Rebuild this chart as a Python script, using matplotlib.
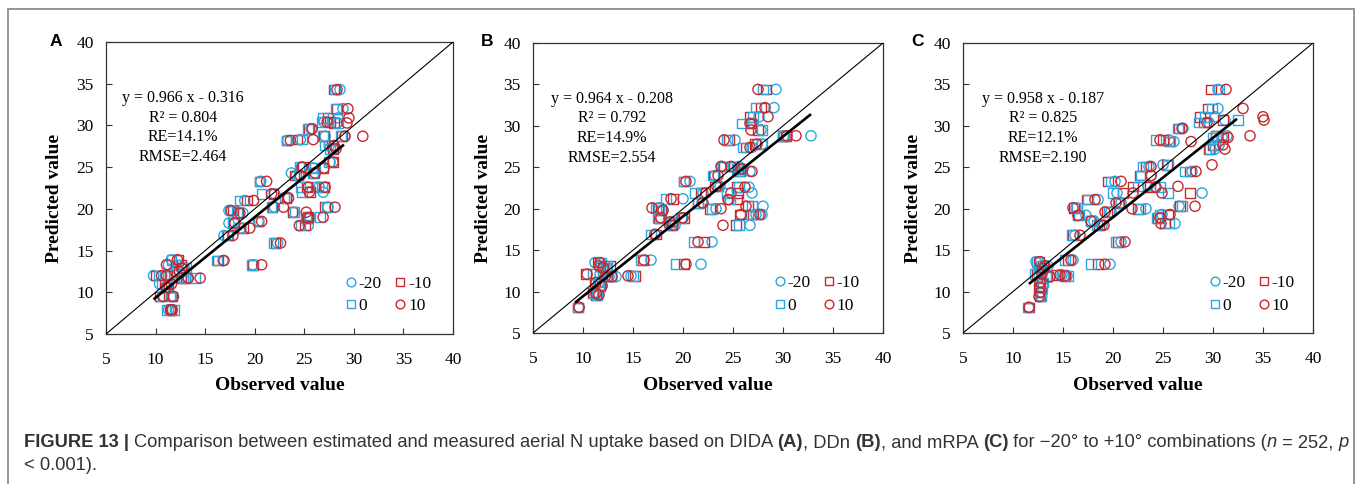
import matplotlib
matplotlib.use('Agg')
import matplotlib.pyplot as plt
from matplotlib.lines import Line2D
from matplotlib.patches import Rectangle

# ---------------- data ----------------
series_labels = ['-20', '-10', '0', '10']

# Panel A (DIDA)
yA = [34.3, 32.0, 30.9, 30.4, 30.3, 29.6, 28.7, 28.7, 28.2, 28.3, 27.6, 27.2, 25.6, 25.0,
      24.9, 24.3, 24.0, 23.3, 22.6, 22.6, 22.0, 21.8, 21.3, 21.0, 20.2, 20.2, 19.8, 19.6,
      19.5, 19.0, 18.9, 18.5, 18.3, 18.0, 17.7, 16.8, 15.9, 13.8, 13.3, 13.9, 13.3, 12.9,
      12.5, 12.0, 12.0, 11.7, 11.7, 11.0, 10.6, 9.5, 9.5, 7.9, 7.9]
xA_m20 = [28.6, 28.9, 28.4, 27.0, 28.3, 25.7, 27.1, 29.1, 23.3, 24.6, 27.5, 27.9, 27.6, 24.7,
          25.9, 23.7, 24.2, 20.6, 26.2, 26.5, 26.9, 22.0, 23.4, 19.0, 22.0, 27.4, 17.4, 23.9,
          18.8, 25.6, 25.5, 20.4, 17.4, 25.4, 18.6, 16.9, 22.3, 16.8, 19.8, 11.6, 11.3, 12.9,
          11.9, 9.8, 11.5, 12.6, 13.2, 10.4, 11.0, 10.7, 11.6, 11.3, 11.7]
xA_m10 = [28.0, 28.3, 27.4, 27.6, 28.0, 25.5, 27.0, 28.8, 23.2, 24.3, 27.8, 27.9, 27.9, 24.9,
          26.9, 26.0, 24.0, 20.5, 25.3, 27.0, 25.6, 21.9, 23.2, 19.2, 21.8, 27.1, 17.8, 23.8,
          18.3, 25.4, 25.3, 20.4, 17.9, 25.1, 18.8, 17.3, 22.1, 16.3, 19.8, 12.3, 12.6, 12.7,
          12.1, 10.0, 11.2, 12.6, 13.0, 10.9, 11.3, 10.4, 11.7, 11.5, 11.6]
xA_0 = [28.1, 28.2, 26.9, 26.8, 28.4, 25.4, 26.9, 28.7, 23.2, 24.8, 27.1, 27.6, 27.5, 24.5,
        26.1, 25.9, 24.4, 20.5, 24.6, 26.8, 24.8, 20.7, 23.0, 18.5, 21.7, 27.3, 17.6, 24.0,
        18.2, 26.6, 25.2, 20.4, 17.8, 24.6, 18.5, 17.2, 21.9, 16.2, 19.7, 11.6, 12.1, 13.1,
        12.8, 10.3, 10.9, 14.0, 12.8, 10.6, 11.2, 10.7, 11.5, 11.1, 11.9]
xA_10 = [28.3, 29.4, 29.5, 27.3, 29.3, 25.8, 30.9, 29.1, 23.6, 25.9, 28.0, 28.2, 27.9, 24.8,
         27.0, 26.1, 24.6, 21.2, 25.4, 27.1, 25.5, 21.7, 23.4, 19.9, 22.9, 28.1, 17.6, 25.2,
         18.5, 26.9, 25.4, 20.7, 18.0, 24.5, 19.5, 17.8, 22.6, 16.9, 20.7, 12.2, 11.1, 12.6,
         12.4, 10.6, 11.1, 13.3, 14.5, 11.6, 11.1, 10.8, 11.8, 11.6, 11.5]

# Panel B (DDn)
yB = [34.4, 32.2, 31.1, 30.3, 29.5, 28.8, 28.8, 28.3, 27.8, 27.4, 25.1, 25.1, 24.8, 24.5,
      24.0, 23.3, 22.7, 22.6, 21.9, 21.9, 21.2, 21.1, 20.7, 20.3, 20.1, 19.8, 20.0, 19.3,
      19.3, 18.9, 18.9, 18.4, 18.0, 18.0, 16.9, 16.0, 13.8, 13.3, 13.5, 13.1, 12.9, 12.1,
      11.9, 11.8, 11.8, 11.1, 10.7, 9.8, 9.6, 8.1]
xB_m20 = [29.3, 29.1, 27.6, 27.0, 27.8, 32.8, 30.1, 25.2, 27.9, 26.9, 23.9, 25.6, 26.0, 26.7,
          23.2, 20.7, 23.7, 26.6, 22.0, 26.9, 20.0, 24.6, 21.9, 28.0, 17.6, 18.0, 23.3, 27.3,
          27.9, 19.9, 17.7, 19.0, 26.7, 19.2, 17.2, 22.9, 16.8, 21.8, 11.2, 12.2, 11.7, 11.7,
          14.8, 12.6, 13.3, 11.6, 11.9, 11.0, 11.5, 9.6]
xB_m10 = [28.3, 27.8, 26.7, 26.8, 27.5, 30.3, 30.0, 24.6, 27.2, 26.3, 24.1, 25.1, 25.5, 25.7,
          23.1, 20.1, 23.2, 25.4, 21.8, 25.5, 19.0, 25.4, 21.5, 26.5, 17.5, 17.8, 22.7, 25.7,
          27.0, 20.1, 17.6, 18.6, 25.3, 18.9, 17.3, 22.1, 16.0, 20.1, 11.5, 12.7, 12.0, 10.3,
          15.2, 12.4, 12.8, 11.2, 11.7, 11.0, 11.3, 9.5]
xB_0 = [28.0, 27.3, 27.0, 25.9, 27.9, 30.1, 30.0, 24.4, 27.9, 26.0, 24.0, 24.8, 25.4, 25.6,
        23.0, 20.1, 23.5, 25.6, 21.2, 24.4, 18.3, 24.7, 21.5, 26.9, 17.3, 17.6, 22.9, 26.8,
        27.5, 19.8, 17.5, 18.8, 25.6, 18.8, 16.8, 21.1, 15.8, 19.3, 11.8, 12.4, 12.3, 11.0,
        15.0, 12.3, 12.8, 11.5, 11.6, 11.1, 11.4, 9.5]
xB_10 = [27.5, 28.2, 28.5, 26.7, 26.8, 31.3, 30.4, 24.1, 27.4, 26.7, 23.8, 24.8, 25.9, 26.9,
         23.5, 20.3, 23.4, 26.2, 22.3, 24.8, 18.8, 24.5, 22.0, 26.3, 16.9, 18.0, 23.8, 25.8,
         27.7, 20.0, 17.8, 18.7, 24.0, 19.0, 17.2, 21.5, 16.1, 20.3, 11.7, 11.6, 12.0, 10.4,
         14.5, 12.9, 12.2, 11.3, 11.9, 11.3, 11.6, 9.6]

# Panel C (mRPA)
yC = [34.4, 32.1, 31.1, 30.7, 30.4, 29.7, 28.8, 28.6, 28.3, 28.1, 27.7, 27.2, 25.3, 25.1,
      24.5, 24.0, 23.3, 22.7, 22.6, 21.9, 21.9, 21.1, 20.7, 20.3, 20.1, 20.0, 19.6, 19.2,
      19.3, 18.9, 18.5, 18.2, 18.0, 16.8, 16.0, 13.8, 13.3, 13.6, 13.1, 12.8, 12.1, 12.0,
      11.9, 11.8, 11.1, 10.5, 9.9, 9.4, 8.1]
xC_m20 = [30.5, 30.5, 30.2, 31.2, 29.6, 27.0, 31.4, 30.9, 25.6, 26.1, 30.6, 30.2, 25.0, 23.6,
          27.9, 23.8, 20.2, 23.5, 24.2, 28.9, 20.4, 18.5, 20.8, 26.6, 16.3, 23.3, 19.8, 17.3,
          24.9, 24.8, 18.1, 26.2, 18.9, 16.2, 20.8, 16.0, 19.7, 12.3, 13.5, 12.9, 12.6, 14.9,
          15.4, 13.7, 12.8, 12.7, 12.9, 12.8, 11.6]
xC_m10 = [29.8, 29.5, 28.7, 31.0, 29.1, 26.6, 30.3, 31.0, 25.0, 25.6, 30.0, 29.6, 25.4, 23.3,
          27.7, 22.7, 19.5, 22.0, 23.7, 27.7, 21.0, 17.4, 20.6, 26.7, 16.1, 22.5, 19.4, 16.5,
          25.5, 24.5, 17.8, 25.2, 18.6, 16.0, 20.5, 15.5, 18.5, 12.6, 13.0, 12.7, 12.4, 14.4,
          15.2, 13.4, 12.9, 12.6, 12.8, 12.7, 11.6]
xC_0 = [30.6, 29.9, 29.2, 32.5, 28.6, 26.5, 30.3, 30.0, 24.3, 25.7, 30.2, 29.7, 25.5, 23.0,
        27.2, 22.8, 19.8, 22.5, 24.7, 25.5, 20.0, 17.5, 20.5, 26.9, 16.4, 22.7, 19.6, 16.6,
        24.7, 24.4, 17.8, 25.6, 18.4, 15.9, 20.3, 15.2, 17.8, 12.4, 12.8, 12.6, 12.2, 15.0,
        15.5, 13.3, 13.0, 12.9, 12.7, 12.8, 11.5]
xC_10 = [31.3, 33.0, 35.0, 35.1, 29.4, 26.9, 33.7, 31.5, 24.7, 27.8, 31.0, 31.2, 29.9, 23.8,
         28.3, 23.8, 20.8, 26.5, 24.3, 24.9, 22.0, 18.2, 20.3, 28.2, 16.0, 21.9, 19.2, 16.5,
         25.7, 24.7, 17.8, 24.8, 19.1, 16.7, 21.2, 15.8, 19.2, 12.7, 13.2, 13.0, 12.9, 14.7,
         15.2, 13.7, 12.7, 12.7, 12.7, 12.6, 11.6]

fit_slope = [0.966, 0.964, 0.958]
fit_icpt = [-0.316, -0.208, -0.187]
fit_xmin = [9.9, 9.3, 11.7]
fit_xmax = [28.9, 32.7, 32.3]
stat_text = [
    ['y = 0.966 x - 0.316', 'R\u00b2 = 0.804', 'RE=14.1%', 'RMSE=2.464'],
    ['y = 0.964 x - 0.208', 'R\u00b2 = 0.792', 'RE=14.9%', 'RMSE=2.554'],
    ['y = 0.958 x - 0.187', 'R\u00b2 = 0.825', 'RE=12.1%', 'RMSE=2.190'],
]
panel_letters = ['A', 'B', 'C']
ticks = [5, 10, 15, 20, 25, 30, 35, 40]

# ---------------- style / layout ----------------
W, H = 1357, 484
BLUE = '#2ca6e0'
RED = '#c9282d'
SERIF = 'Liberation Serif'
SANS = 'Liberation Sans'
CAP = '#333333'

fig = plt.figure(figsize=(W / 100, H / 100), dpi=100)
fig.patch.set_facecolor('white')

def fx(x):
    return x / W

def fy(y):
    return 1 - y / H

# outer frame
fig.patches.append(Rectangle((fx(8), fy(500)), fx(1354) - fx(8), fy(9) - fy(500),
                             transform=fig.transFigure, fill=False,
                             edgecolor='#8c8c8c', lw=1.3))

axes_px = [(106, 453, 42, 334), (533, 883, 43, 333), (963, 1313, 43, 333)]
ylab_x = [55, 483, 913]
letter_x = [56, 487, 917]
stat_cx = [0.222, 0.226, 0.229]
stat_cy = [0.808, 0.740, 0.673, 0.605]
leg_cx = [0.814, 0.812, 0.826]

data = [
    (yA, [xA_m20, xA_m10, xA_0, xA_10]),
    (yB, [xB_m20, xB_m10, xB_0, xB_10]),
    (yC, [xC_m20, xC_m10, xC_0, xC_10]),
]
styles = [('o', BLUE), ('s', RED), ('s', BLUE), ('o', RED)]

for i, (l, r, t, b) in enumerate(axes_px):
    ax = fig.add_axes([fx(l), fy(b), (r - l) / W, (b - t) / H])
    ax.set_xlim(5, 40)
    ax.set_ylim(5, 40)
    ax.set_xticks(ticks)
    ax.set_yticks(ticks)
    ax.tick_params(direction='in', length=4, width=0.8, color='#333333',
                   labelsize=12.5, pad=0)
    ax.tick_params(axis='x', pad=13)
    ax.tick_params(axis='y', pad=9)
    for lab in ax.get_xticklabels() + ax.get_yticklabels():
        lab.set_fontfamily(SERIF)
    for sp in ax.spines.values():
        sp.set_color('#333333')
        sp.set_linewidth(0.9)

    yv, xs = data[i]
    handles = []
    for (mk, col), xv, lab in zip(styles, xs, series_labels):
        ax.scatter(xv, yv, s=54 if mk == 'o' else 48, marker=mk, facecolors='none',
                   edgecolors=col, linewidths=1.0, zorder=3)
        handles.append(Line2D([], [], ls='none', marker=mk, mfc='none', mec=col,
                              mew=1.0, ms=6.3, label=lab))

    # 1:1 line
    ax.plot([5, 40], [5, 40], color='black', lw=0.8, zorder=4)
    # fitted line
    fxs = [fit_xmin[i], fit_xmax[i]]
    ax.plot(fxs, [fit_slope[i] * v + fit_icpt[i] for v in fxs],
            color='black', lw=1.9, zorder=5)

    for k, s in enumerate(stat_text[i]):
        ax.text(stat_cx[i], stat_cy[k], s, transform=ax.transAxes, ha='center',
                va='center', fontsize=11.5, family=SERIF)

    order = [handles[0], handles[2], handles[1], handles[3]]
    leg = ax.legend(handles=order, ncol=2, loc='center',
                    bbox_to_anchor=(leg_cx[i], 0.133), frameon=False,
                    prop={'family': SERIF, 'size': 12.5}, handlelength=0.6,
                    handletextpad=0.15, columnspacing=0.75, labelspacing=0.35,
                    borderpad=0, borderaxespad=0)

    fig.text(fx((l + r) / 2), fy(385), 'Observed value', ha='center', va='center',
             fontsize=14, fontweight='bold', family=SERIF)
    fig.text(fx(ylab_x[i]), fy(198), 'Predicted value', ha='center', va='center',
             rotation=90, fontsize=14, fontweight='bold', family=SERIF)
    fig.text(fx(letter_x[i]), fy(41), panel_letters[i], ha='center', va='center',
             fontsize=12.5, fontweight='bold', family=SANS)

# ---------------- caption ----------------
line1 = [("FIGURE 13 | ", 'bold', 'normal'),
         ("Comparison between estimated and measured aerial N uptake based on DIDA ", 'normal', 'normal'),
         ("(A)", 'bold', 'normal'), (", DDn ", 'normal', 'normal'),
         ("(B)", 'bold', 'normal'), (", and mRPA ", 'normal', 'normal'),
         ("(C)", 'bold', 'normal'),
         (" for \u221220\u00b0 to +10\u00b0 combinations (", 'normal', 'normal'),
         ("n", 'normal', 'italic'), (" = 252, ", 'normal', 'normal'),
         ("p", 'normal', 'italic')]
line2 = [("< 0.001).", 'normal', 'normal')]

renderer = fig.canvas.get_renderer()

def place_line(pieces, x0, ybase, size):
    x = x0
    for txt, wt, st in pieces:
        t = fig.text(fx(x), fy(ybase), txt, ha='left', va='baseline', fontsize=size,
                     fontweight=wt, fontstyle=st, family=SANS, color=CAP)
        bb = t.get_window_extent(renderer=renderer)
        x += bb.width
    return x - x0

cap_size = 11.2
width = place_line(line1, 24, 447, cap_size)
for t in list(fig.texts)[-len(line1):]:
    t.remove()
cap_size = cap_size * (1316.0 / width)
place_line(line1, 24, 447, cap_size)
place_line(line2, 24, 470, cap_size)

fig.savefig('out.png', dpi=100)
